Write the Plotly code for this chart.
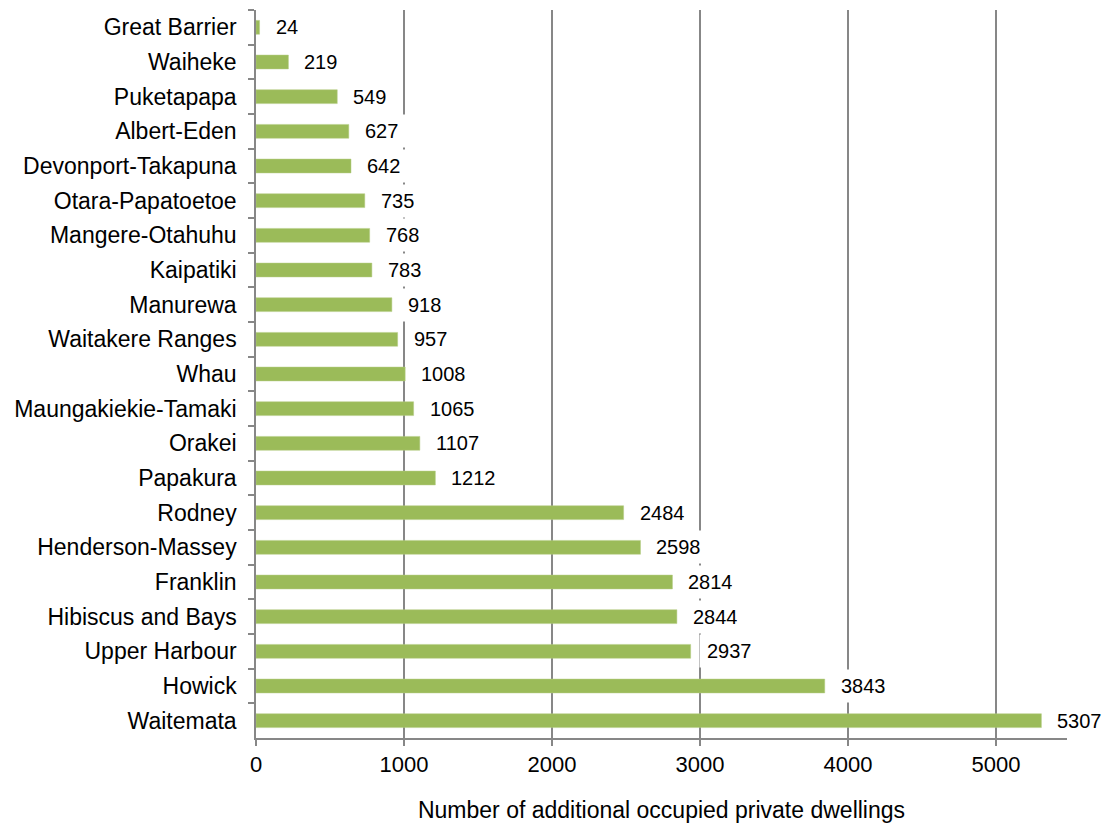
import plotly.graph_objects as go

boards = ["Great Barrier", "Waiheke", "Puketapapa", "Albert-Eden", "Devonport-Takapuna",
          "Otara-Papatoetoe", "Mangere-Otahuhu", "Kaipatiki", "Manurewa", "Waitakere Ranges",
          "Whau", "Maungakiekie-Tamaki", "Orakei", "Papakura", "Rodney", "Henderson-Massey",
          "Franklin", "Hibiscus and Bays", "Upper Harbour", "Howick", "Waitemata"]
dwellings = [24, 219, 549, 627, 642, 735, 768, 783, 918, 957, 1008, 1065, 1107, 1212,
             2484, 2598, 2814, 2844, 2937, 3843, 5307]
x_ticks = [0, 1000, 2000, 3000, 4000, 5000]
x_title = "Number of additional occupied private dwellings"

FONT = "Liberation Sans, Arial, sans-serif"
GRID = "#878787"

fig = go.Figure()
fig.add_trace(go.Bar(
    x=dwellings, y=boards, orientation="h",
    marker=dict(color="#9BBB59", line=dict(color="#B5CD85", width=0.5)),
    width=0.4, hoverinfo="x+y",
))

for b, v in zip(boards, dwellings):
    fig.add_annotation(
        x=v, y=b, xref="x", yref="y", text=str(v), showarrow=False,
        xanchor="left", yanchor="middle", xshift=8,
        bgcolor="white", borderpad=7, height=18,
        font=dict(family=FONT, size=20, color="#000000"),
    )

fig.update_layout(
    width=1104, height=829,
    margin=dict(l=256, r=37, t=10, b=91),
    paper_bgcolor="white", plot_bgcolor="white",
    showlegend=False,
    font=dict(family=FONT, color="#000000"),
    xaxis=dict(
        range=[0, 5480], tickvals=x_ticks, ticktext=[str(t) for t in x_ticks],
        showgrid=True, gridcolor=GRID, gridwidth=1.5,
        zeroline=False, showline=True, linecolor=GRID, linewidth=1.5,
        ticks="outside", ticklen=6, tickcolor=GRID, tickwidth=1.5,
        tickfont=dict(family=FONT, size=22, color="#000000"),
        title=dict(text=x_title, font=dict(family=FONT, size=23, color="#000000"), standoff=26),
        fixedrange=True,
    ),
    yaxis=dict(
        categoryorder="array", categoryarray=boards, autorange="reversed",
        showgrid=False, zeroline=False, showline=True, linecolor=GRID, linewidth=1.5,
        ticks="outside", tickson="boundaries", ticklen=6, tickcolor=GRID, tickwidth=1.5,
        tickfont=dict(family=FONT, size=23, color="#000000"),
        ticklabelstandoff=13, fixedrange=True,
    ),
)

fig.write_html("out.html")
